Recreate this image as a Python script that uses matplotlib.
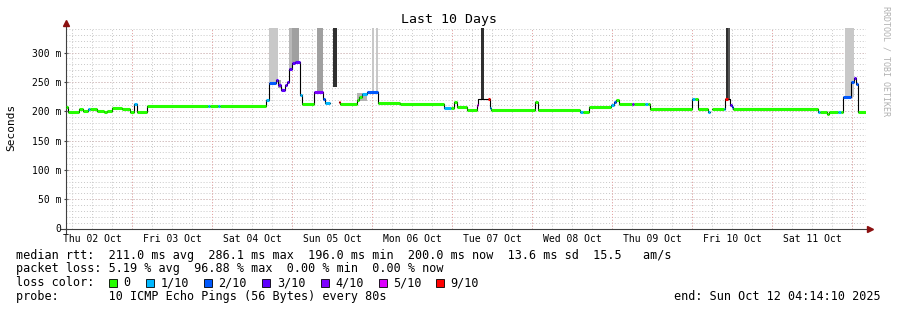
import numpy as np
import pandas as pd
import matplotlib
matplotlib.use('Agg')
import matplotlib.pyplot as plt
from matplotlib.patches import Rectangle

plt.rcParams['font.family'] = ['DejaVu Sans Mono']

# ---- data: hours since 2025-10-02 04:14:10 ----
start = pd.Timestamp('2025-10-02 04:14:10')
span_hours = 240
y_top = 342

# median rtt as steps: start hour, value (ms), loss class (-1 = not coloured)
step_start = [0.0, 0.5, 3.8, 5.0, 6.5, 7.1, 9.2, 11.3, 12.2, 13.7, 16.7, 19.1, 20.3, 21.2,
              24.2, 42.5, 43.0, 45.5, 46.0, 59.9, 60.8, 62.9, 63.5, 64.4, 65.6, 66.2, 66.8,
              67.7, 68.6, 70.1, 70.7, 74.3, 76.9, 77.6, 79.1, 81.8, 82.1, 87.2, 87.8, 88.7,
              90.2, 93.5, 100.1, 113.3, 115.4, 116.3, 117.2, 120.2, 123.3, 123.6, 126.5,
              127.0, 127.4, 140.6, 141.5, 154.1, 155.0, 156.8, 163.4, 164.3, 164.9, 165.8,
              169.7, 170.3, 173.6, 174.5, 175.2, 187.7, 188.6, 189.5, 192.5, 193.1, 193.7,
              197.4, 197.7, 198.4, 199.1, 199.6, 200.0, 225.5, 226.1, 228.2, 228.8, 231.5,
              232.4, 232.9, 235.4, 236.4, 236.9, 237.5]
step_rtt = [207, 199, 203, 200, 203, 203, 200, 198, 200, 205, 204, 199, 213, 198,
            209, 209, 209, 209, 209, 220, 249, 253, 244, 237, 244, 250, 272,
            282, 284, 227, 212, 232, 221, 214, np.nan, 216, 212, 219, 225, 229.5,
            232, 213.5, 212, 205.5, 205.5, 215, 206.5, 202, 210, 221, 221,
            205, 202, 216, 202, 199, 199, 208, 211, 216, 220, 212,
            212, 212, 212, 212, 204, 221, 221, 204, 199, np.nan, 204,
            204, 221, 221, 210.6, 207, 204, 199, 199, 195, 199, 199,
            199, 224, 250.5, 256, 246, 199]
step_loss = [0, 0, 0, 0, 1, 0, 0, 0, 0, 0, 0, 0, 1, 0,
             0, 1, 0, 1, 0, 1, 2, 3, 3, 3, 3, 3, 3,
             3, 3, 1, 0, 4, 2, 1, -1, 9, 0, 0, 0, 1,
             2, 0, 0, 1, 0, 0, 0, 0, 5, -1, 9,
             1, 0, 0, 0, 1, 0, 0, 1, 2, 0, 0,
             4, 0, 1, 0, 0, 1, 0, 0, 1, -1, 0,
             1, 9, -1, 3, 2, 0, 1, 0, 0, 0, 1,
             0, 2, 2, 3, 2, 0]

# smoke (ping spread) blocks
smoke_left = [60.9, 63.5, 66.9, 67.6, 75.2, 80.0, 87.2, 91.7, 92.9, 124.4, 197.9, 198.5, 233.7]
smoke_right = [63.5, 64.4, 67.6, 69.8, 77.0, 81.2, 90.2, 92.2, 93.4, 125.3, 198.5, 199.1, 236.2]
smoke_low = [250, 240, 272, 284, 232, 241, 217, 232, 232, 221, 221, 221, 224]
smoke_high = [y_top, 254, y_top, y_top, y_top, y_top, 231, y_top, y_top, y_top, y_top, y_top, y_top]
smoke_shade = ['#c8c8c8', '#a8a8a8', '#b8b8b8', '#a0a0a0', '#a0a0a0', '#303030', '#b4b4b4',
               '#c8c8c8', '#c8c8c8', '#303030', '#303030', '#555555', '#c8c8c8']

loss_classes = [0, 1, 2, 3, 4, 5, 9]
loss_labels = ['0', '1/10', '2/10', '3/10', '4/10', '5/10', '9/10']
loss_colors = ['#26ff00', '#00b8ff', '#0059ff', '#5e00ff', '#7e00ff', '#dd00ff', '#ff0000']

y_ticks = [0, 50, 100, 150, 200, 250, 300]
y_tick_labels = ['0', '50 m', '100 m', '150 m', '200 m', '250 m', '300 m']

legend_lines = [
    'median rtt:  211.0 ms avg  286.1 ms max  196.0 ms min  200.0 ms now  13.6 ms sd  15.5   am/s',
    'packet loss: 5.19 % avg  96.88 % max  0.00 % min  0.00 % now',
    'loss color:',
    'probe:       10 ICMP Echo Pings (56 Bytes) every 80s',
]
end_text = 'end: Sun Oct 12 04:14:10 2025'

# ---- time ticks ----
hour = pd.Timedelta(hours=1)
noons = pd.date_range('2025-10-02 12:00', periods=10, freq='D')
noon_h = (noons - start) / hour
day_labels = list(noons.strftime('%a %d %b'))
midnight_h = (pd.date_range('2025-10-03', periods=10, freq='D') - start) / hour
six_h = (pd.date_range('2025-10-02 06:00', '2025-10-12 04:00', freq='6h') - start) / hour

W, H = 897, 310
fig = plt.figure(figsize=(W / 100, H / 100), dpi=100)
ax = fig.add_axes([66.2 / W, (H - 228.5) / H, 800 / W, 200.5 / H])
ax.set_xlim(0, span_hours)
ax.set_ylim(0, y_top)

# grid
grid_gray = '#c8c8c8'
grid_red = '#e8a0a0'
dot = (0, (1, 2))
ax.set_yticks(y_ticks, y_tick_labels)
ax.set_yticks(np.arange(0, y_top, 10), minor=True)
ax.yaxis.remove_overlapping_locs = False
ax.grid(which='minor', axis='y', color=grid_gray, linestyle=dot, lw=0.7)
ax.grid(which='major', axis='y', color=grid_red, linestyle=dot, lw=0.7)
ax.set_xticks(noon_h, day_labels)
ax.set_xticks(six_h, minor=True)
ax.xaxis.remove_overlapping_locs = False
ax.grid(which='minor', axis='x', color=grid_gray, linestyle=dot, lw=0.7)
for m in midnight_h:
    ax.axvline(m, color=grid_red, linestyle=dot, lw=0.7, zorder=0.6)
ax.set_axisbelow(True)

ax.tick_params(axis='x', which='both', length=0, labelsize=7, pad=4)
ax.tick_params(axis='y', which='major', length=3, direction='inout', labelsize=7, pad=2,
               color='#404040')
ax.tick_params(axis='y', which='minor', length=0)
for s in ax.spines.values():
    s.set_visible(False)

# smoke
ax.bar(smoke_left, np.array(smoke_high) - np.array(smoke_low),
       width=np.array(smoke_right) - np.array(smoke_left), bottom=smoke_low,
       align='edge', color=smoke_shade, lw=0, zorder=2)

# median line: black steps, coloured by loss on top
t_ext = step_start + [span_hours]
v_ext = step_rtt + [step_rtt[-1]]
ax.step(t_ext, v_ext, where='post', color='black', lw=0.8, zorder=3)
for i, v in enumerate(step_rtt):
    if step_loss[i] < 0 or np.isnan(v):
        continue
    c = loss_colors[loss_classes.index(step_loss[i])]
    ax.hlines(v, t_ext[i], t_ext[i + 1], colors=c, lw=2.2, zorder=4, capstyle='butt')

# axes with arrows
axis_col = '#404040'
arrow_col = '#8b1010'
ax.plot([0, 0], [-0.02, 1.02], color=axis_col, lw=0.8, transform=ax.transAxes, clip_on=False)
ax.plot([-0.006, 1.003], [0, 0], color=axis_col, lw=0.8, transform=ax.transAxes, clip_on=False)
ax.plot([0], [1.025], marker='^', color=arrow_col, ms=4, transform=ax.transAxes, clip_on=False)
ax.plot([1.005], [0], marker='>', color=arrow_col, ms=4, transform=ax.transAxes, clip_on=False)

# texts
def fx(px):
    return px / W

def fy(py):
    return (H - py) / H

fig.text(0.5, fy(20), 'Last 10 Days', ha='center', va='center', fontsize=9.5)
fig.text(fx(11), fy(127), 'Seconds', rotation=90, ha='center', va='center', fontsize=8)
fig.text(fx(886), fy(6), 'RRDTOOL / TOBI OETIKER', rotation=270, ha='center', va='top',
         fontsize=6, color='#b0b0b0')

legend_y = [255, 268.5, 282.5, 296.5]
for line, y in zip(legend_lines, legend_y):
    fig.text(fx(16), fy(y), line, ha='left', va='center', fontsize=8.5)
fig.text(fx(881), fy(296.5), end_text, ha='right', va='center', fontsize=8.5)

box_x = [108.5, 146, 203.5, 262, 320.5, 378.5, 435.5]
for bx, c, lab in zip(box_x, loss_colors, loss_labels):
    fig.patches.append(Rectangle((fx(bx), fy(286.5)), 8 / W, 8 / H, transform=fig.transFigure,
                                 facecolor=c, edgecolor='black', lw=0.6))
    fig.text(fx(bx + 15), fy(282.5), lab, ha='left', va='center', fontsize=8.5)

fig.savefig('out.png', dpi=100)
